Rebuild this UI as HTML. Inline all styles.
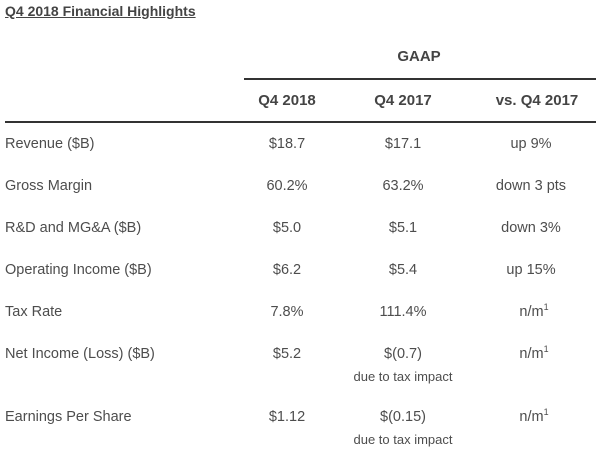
<!DOCTYPE html>
<html><head><meta charset="utf-8"><style>
body{margin:0;width:600px;height:455px;background:#fff;font-family:"Liberation Sans",sans-serif;color:#4d4d4d;position:relative;overflow:hidden}
.t{position:absolute;white-space:nowrap;font-size:14.5px;line-height:18px}
.c{transform:translateX(-50%)}
.b{font-weight:bold;color:#444}
.s{font-size:13px}
sup{font-size:9px;vertical-align:6px;line-height:0}
.ln{position:absolute;height:2px;background:#333}
</style></head><body>
<div class="t b" style="left:5px;top:2px;font-size:14px;text-decoration:underline">Q4 2018 Financial Highlights</div>
<div class="t b c" style="left:419px;top:48px;font-size:15px">GAAP</div>
<div class="ln" style="left:244px;width:352px;top:78px"></div>
<div class="t b c" style="left:287px;top:92px;font-size:15px">Q4 2018</div>
<div class="t b c" style="left:403px;top:92px;font-size:15px">Q4 2017</div>
<div class="t b c" style="left:537px;top:92px;font-size:15px">vs. Q4 2017</div>
<div class="ln" style="left:5px;width:591px;top:121px"></div>

<div class="t" style="left:5px;top:135px">Revenue ($B)</div>
<div class="t c" style="left:287px;top:135px">$18.7</div>
<div class="t c" style="left:403px;top:135px">$17.1</div>
<div class="t c" style="left:531px;top:135px">up 9%</div>

<div class="t" style="left:5px;top:177px">Gross Margin</div>
<div class="t c" style="left:287px;top:177px">60.2%</div>
<div class="t c" style="left:403px;top:177px">63.2%</div>
<div class="t c" style="left:531px;top:177px">down 3 pts</div>

<div class="t" style="left:5px;top:219px">R&amp;D and MG&amp;A ($B)</div>
<div class="t c" style="left:287px;top:219px">$5.0</div>
<div class="t c" style="left:403px;top:219px">$5.1</div>
<div class="t c" style="left:531px;top:219px">down 3%</div>

<div class="t" style="left:5px;top:261px">Operating Income ($B)</div>
<div class="t c" style="left:287px;top:261px">$6.2</div>
<div class="t c" style="left:403px;top:261px">$5.4</div>
<div class="t c" style="left:531px;top:261px">up 15%</div>

<div class="t" style="left:5px;top:303px">Tax Rate</div>
<div class="t c" style="left:287px;top:303px">7.8%</div>
<div class="t c" style="left:403px;top:303px">111.4%</div>
<div class="t c" style="left:534px;top:303px">n/m<sup>1</sup></div>

<div class="t" style="left:5px;top:345px">Net Income (Loss) ($B)</div>
<div class="t c" style="left:287px;top:345px">$5.2</div>
<div class="t c" style="left:403px;top:345px">$(0.7)</div>
<div class="t c s" style="left:403px;top:368px">due to tax impact</div>
<div class="t c" style="left:534px;top:345px">n/m<sup>1</sup></div>

<div class="t" style="left:5px;top:408px">Earnings Per Share</div>
<div class="t c" style="left:287px;top:408px">$1.12</div>
<div class="t c" style="left:403px;top:408px">$(0.15)</div>
<div class="t c s" style="left:403px;top:431px">due to tax impact</div>
<div class="t c" style="left:534px;top:408px">n/m<sup>1</sup></div>
</body></html>
